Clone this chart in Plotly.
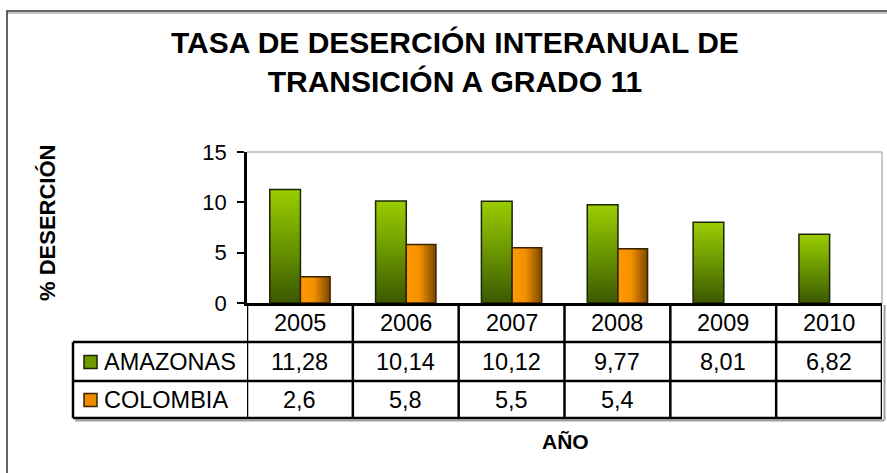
import plotly.graph_objects as go

years = ["2005", "2006", "2007", "2008", "2009", "2010"]
amazonas = [11.28, 10.14, 10.12, 9.77, 8.01, 6.82]
colombia = [2.6, 5.8, 5.5, 5.4, None, None]
series_names = ["AMAZONAS", "COLOMBIA"]
title_text = "TASA DE DESERCIÓN INTERANUAL DE<br>TRANSICIÓN A GRADO 11"
y_title = "% DESERCIÓN"
x_title = "AÑO"
y_ticks = [0, 5, 10, 15]

W, H = 887, 473
L, R, T, B = 247, 5, 152, 170
PW = W - L - R
PH = H - T - B
FONT = "Liberation Sans, Arial, sans-serif"


def px_x(p):
    return (p - L) / PW


def px_y(p):
    return (H - B - p) / PH


def fmt(v):
    return "" if v is None else (("%g" % v).replace(".", ","))


GREEN_SCALE = [[0, "#3b5800"], [0.5, "#6a9600"], [1, "#9acd00"]]
ORANGE_SCALE = [[0, "#ff9a00"], [0.45, "#f39000"], [1, "#7a4700"]]

fig = go.Figure()

for i, v in enumerate(amazonas):
    x0, x1 = i - 0.285, i + 0.005
    fig.add_trace(go.Scatter(
        x=[x0, x0, x1, x1, x0], y=[0, v, v, 0, 0], mode="lines",
        fill="toself", fillgradient=dict(type="vertical", colorscale=GREEN_SCALE),
        line=dict(color="#1c2600", width=1.5), hoverinfo="skip", showlegend=False))

for i, v in enumerate(colombia):
    if v is None:
        continue
    x0, x1 = i + 0.005, i + 0.285
    fig.add_trace(go.Scatter(
        x=[x0, x0, x1, x1, x0], y=[0, v, v, 0, 0], mode="lines",
        fill="toself", fillgradient=dict(type="horizontal", colorscale=ORANGE_SCALE),
        line=dict(color="#3a2200", width=1.5), hoverinfo="skip", showlegend=False))

shapes = []
ann = []
BLACK = "#000000"
LW = 2.5
SHADOW = "#a0a0a0"

# plot area light border (top & right)
shapes.append(dict(type="line", xref="paper", yref="paper", x0=0, x1=1, y0=1, y1=1,
                   line=dict(color="#c8c8c8", width=2)))
shapes.append(dict(type="line", xref="paper", yref="paper", x0=1, x1=1, y0=0, y1=1,
                   line=dict(color="#c8c8c8", width=2)))

# outer frame (left and top visible; right/bottom fall outside the picture)
shapes.append(dict(type="line", xref="paper", yref="paper",
                   x0=px_x(7), x1=px_x(960), y0=px_y(13), y1=px_y(13),
                   line=dict(color="#b0b0b0", width=1.5), layer="below"))
shapes.append(dict(type="rect", xref="paper", yref="paper",
                   x0=px_x(7), x1=px_x(960), y0=px_y(11), y1=px_y(520),
                   line=dict(color="#333333", width=1.5), layer="below"))

# table geometry (pixels)
y_head_top, y_head_bot, y_row1_bot, y_row2_bot = 303, 342, 381, 418
x_leg_left = 73
row_centers = [362, 400]

# shadows of the table (right and bottom)
shapes.append(dict(type="line", xref="paper", yref="paper", x0=px_x(x_leg_left + 2), x1=px_x(W - R + 2),
                   y0=px_y(y_row2_bot + 2.5), y1=px_y(y_row2_bot + 2.5), line=dict(color=SHADOW, width=2)))
shapes.append(dict(type="line", xref="paper", yref="paper", x0=px_x(W - R + 2.5), x1=px_x(W - R + 2.5),
                   y0=px_y(y_head_top + 2), y1=px_y(y_row2_bot + 2.5), line=dict(color=SHADOW, width=2)))

# vertical lines at category boundaries
for k in range(len(years) + 1):
    shapes.append(dict(type="line", xref="x", yref="paper", x0=k - 0.5, x1=k - 0.5,
                       y0=px_y(y_head_top), y1=px_y(y_row2_bot),
                       line=dict(color=BLACK, width=LW)))
# legend column left border
shapes.append(dict(type="line", xref="paper", yref="paper", x0=px_x(x_leg_left), x1=px_x(x_leg_left),
                   y0=px_y(y_head_bot), y1=px_y(y_row2_bot), line=dict(color=BLACK, width=LW)))
# horizontal lines
for yy in [y_head_bot, y_row1_bot, y_row2_bot]:
    shapes.append(dict(type="line", xref="paper", yref="paper", x0=px_x(x_leg_left), x1=1,
                       y0=px_y(yy), y1=px_y(yy), line=dict(color=BLACK, width=LW)))

TFS = 23.5
# header years
for i, yv in enumerate(years):
    ann.append(dict(x=i, y=px_y(323), xref="x", yref="paper", text=yv, showarrow=False,
                    font=dict(size=TFS, color=BLACK, family=FONT), xanchor="center", yanchor="middle"))
# values
for r, vals in enumerate([amazonas, colombia]):
    for i, v in enumerate(vals):
        t = fmt(v)
        if t:
            ann.append(dict(x=i, y=px_y(row_centers[r]), xref="x", yref="paper", text=t, showarrow=False,
                            font=dict(size=TFS, color=BLACK, family=FONT),
                            xanchor="center", yanchor="middle"))

# legend entries inside table
leg_fill = ["#6f9a00", "#ef8c00"]
leg_line = ["#1c2600", "#3a2200"]
for r, name in enumerate(series_names):
    yc = row_centers[r]
    shapes.append(dict(type="rect", xref="paper", yref="paper",
                       x0=px_x(84), x1=px_x(97), y0=px_y(yc - 6.5), y1=px_y(yc + 6.5),
                       fillcolor=leg_fill[r], line=dict(color=leg_line[r], width=1.5)))
    ann.append(dict(x=px_x(102), y=px_y(yc), xref="paper", yref="paper", text=name, showarrow=False,
                    font=dict(size=TFS, color=BLACK, family=FONT), xanchor="left", yanchor="middle"))

# titles
ann.append(dict(x=px_x(455), y=px_y(62), xref="paper", yref="paper", text="<b>" + title_text + "</b>",
                showarrow=False, font=dict(size=30, color=BLACK, family=FONT),
                xanchor="center", yanchor="middle", align="center"))
ann.append(dict(x=px_x(47), y=px_y(223), xref="paper", yref="paper", text="<b>" + y_title + "</b>",
                showarrow=False, textangle=-90, font=dict(size=22, color=BLACK, family=FONT),
                xanchor="center", yanchor="middle"))
ann.append(dict(x=px_x(565), y=px_y(441), xref="paper", yref="paper", text="<b>" + x_title + "</b>",
                showarrow=False, font=dict(size=21, color=BLACK, family=FONT),
                xanchor="center", yanchor="middle"))

fig.update_layout(
    width=W, height=H,
    margin=dict(l=L, r=R, t=T, b=B, pad=0),
    paper_bgcolor="white", plot_bgcolor="white",
    showlegend=False,
    shapes=shapes, annotations=ann,
    xaxis=dict(range=[-0.5, len(years) - 0.5], showticklabels=False, ticks="", showgrid=False,
               zeroline=False, showline=True, linecolor=BLACK, linewidth=LW, fixedrange=True),
    yaxis=dict(range=[0, 15], tickvals=y_ticks, ticks="outside", ticklen=7, tickwidth=2,
               tickcolor=BLACK, showline=True, linecolor=BLACK, linewidth=LW, showgrid=False,
               zeroline=False, ticklabelstandoff=6,
               tickfont=dict(size=22, color=BLACK, family=FONT), fixedrange=True),
)

fig.write_html("out.html", config={"displayModeBar": False},
               post_script="document.body.style.margin='0px';document.body.style.overflow='hidden';")
